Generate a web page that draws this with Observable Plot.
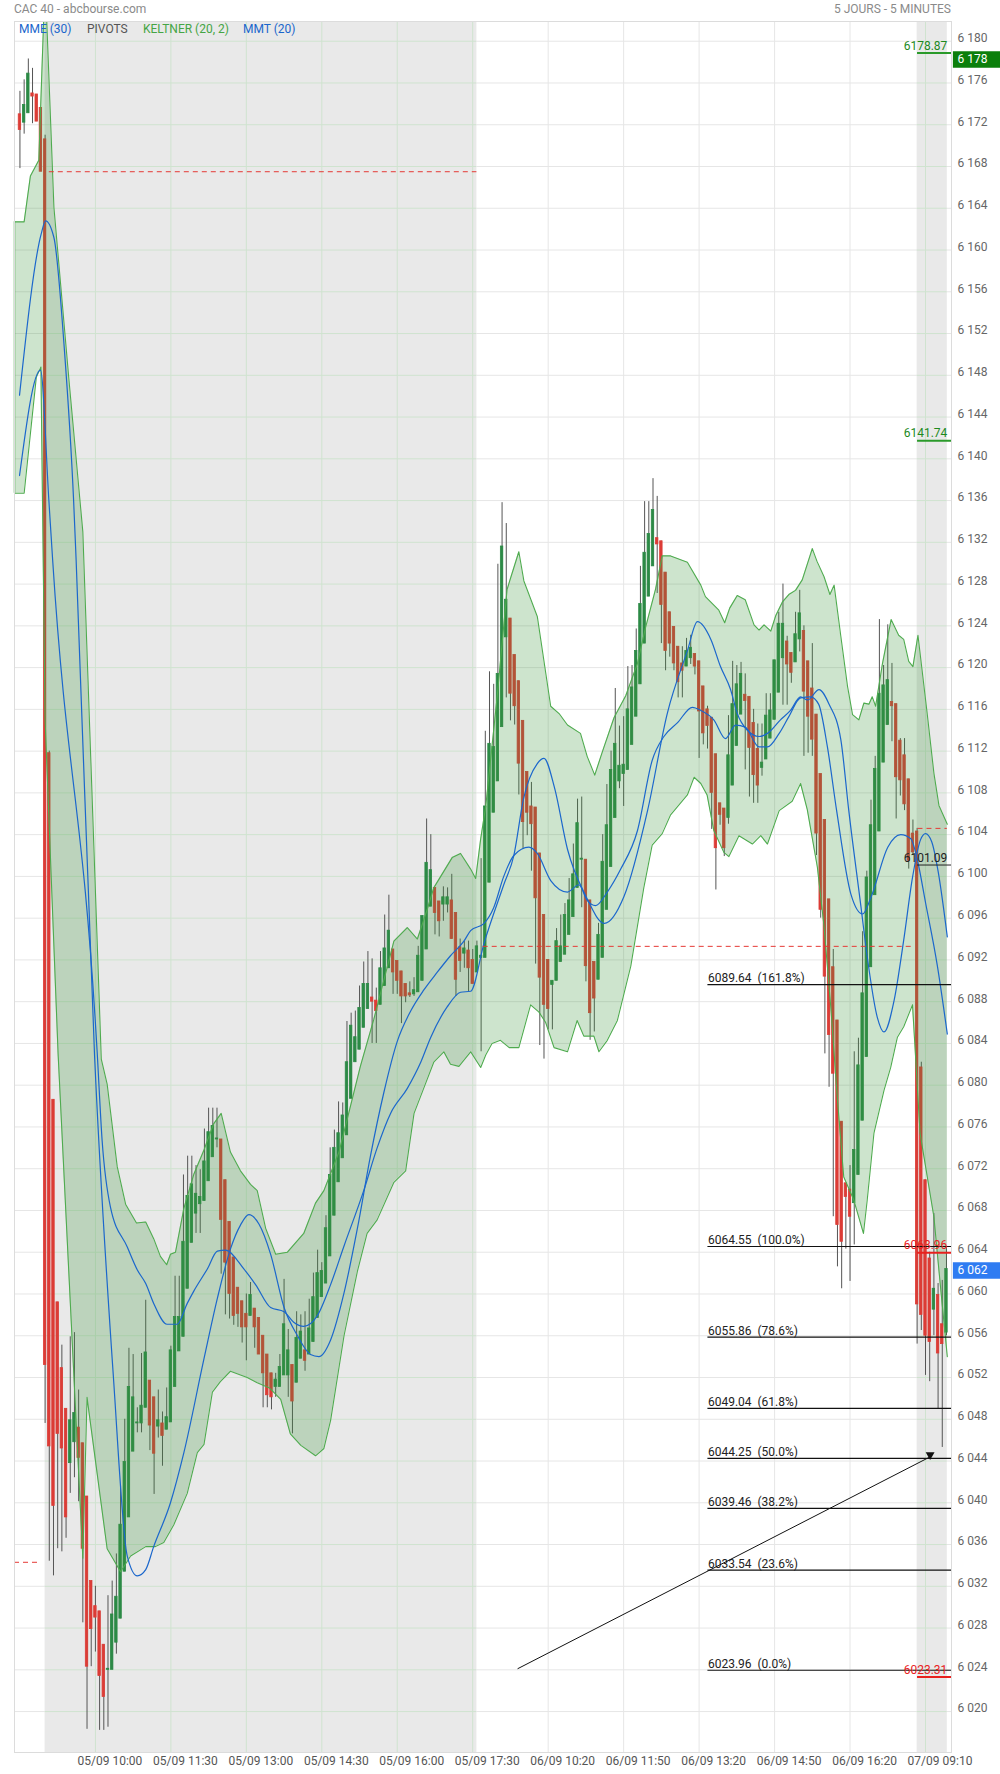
<!DOCTYPE html>
<html><head><meta charset="utf-8">
<script src="https://cdn.jsdelivr.net/npm/d3@7"></script>
<script src="https://cdn.jsdelivr.net/npm/@observablehq/plot@0.6"></script>
<style>
body{margin:0;background:#fff;font-family:Roboto,sans-serif;}
#wrap{position:relative;width:1000px;height:1774px;overflow:hidden;}
#chart{position:absolute;left:0;top:0;}
.hdr{position:absolute;top:1px;font-size:12px;color:#8a8a8a;line-height:16px;white-space:nowrap;}
.leg{position:absolute;top:21px;font-size:12px;line-height:16px;white-space:nowrap;}
</style></head><body>
<div id="wrap">
<div id="chart"></div>
<div class="hdr" style="left:14px">CAC 40 - abcbourse.com</div>
<div class="hdr" style="right:49px">5 JOURS - 5 MINUTES</div>
<div class="leg" style="left:19px;color:#1a66cc">MME (30)</div>
<div class="leg" style="left:87px;color:#555">PIVOTS</div>
<div class="leg" style="left:143px;color:#45a545">KELTNER (20, 2)</div>
<div class="leg" style="left:243px;color:#1a66cc">MMT (20)</div>
</div>
<script>
// ---------- data ----------
const kStart = -6; // candle slot of first candle (04/09 end)
const open = [6173.0,6172.2,6173.1,6175.0,6174.9,6173.6,
6170.6,6111.8,6078.6,6059.2,6052.9,6049.0,6043.8,6045.8,6047.2,6045.7,6040.6,6032.5,6030.1,6029.6,6026.4,6024.0,6024.0,6026.6,6028.9,6033.4,
6038.6,6044.9,6047.6,6047.6,6049.1,6051.7,6050.1,6047.3,6047.6,6047.0,6047.7,6051.1,6054.5,6055.9,6060.5,6064.9,6067.7,6068.6,6068.9,6070.8,
6073.1,6074.8,6074.8,6070.9,6066.9,6063.5,6060.6,6059.3,6058.1,6057.9,6058.6,6057.7,6056.0,6054.2,6052.4,6051.1,6051.1,6052.2,6052.2,6053.2,
6051.5,6053.8,6054.6,6054.2,6055.4,6057.7,6059.7,6061.0,6063.6,6067.5,6070.7,6073.0,6075.2,6078.7,6082.2,6083.4,6085.5,6087.3,6088.4,6088.1,
6087.7,6089.5,6091.2,6093.0,6091.9,6090.9,6089.7,6088.8,6088.7,6088.9,6090.0,6093.0,6097.1,6098.9,6097.6,6097.3,6097.3,6097.7,6096.5,6093.2,
6092.6,6092.9,6092.0,6090.8,
6092.2,6092.2,6099.4,6106.1,6109.1,6114.3,6122.9,6124.7,6121.2,6118.7,6114.9,6110.0,6106.7,6106.6,6102.2,6096.3,6092.0,6089.6,6090.0,6091.8,
6092.5,6094.4,6096.1,6098.9,6101.6,6101.6,6097.7,6091.8,6090.1,6092.2,6096.8,6100.9,6105.6,6109.1,6109.8,6110.2,6112.6,6115.3,6118.4,6122.3,
6126.8,6129.7,6132.4,6132.1,6129.1,6125.3,6123.9,6122.0,6120.4,6120.1,6120.9,6121.3,6120.6,6118.2,6116.0,6115.2,6111.7,6107.0,6106.5,6105.6,
6108.7,6112.5,6115.5,6117.4,6117.2,6114.7,6112.2,6110.4,6111.2,6113.2,6115.0,6117.6,6120.9,6122.5,6121.4,6120.5,6122.7,6123.5,6120.6,6118.0,
6115.5,6109.8,6105.4,6097.8,6091.3,6086.2,6076.5,6070.6,6070.0,6068.7,6071.4,6076.6,6082.7,6091.3,6098.2,6104.3,6110.9,6114.5,6116.7,6116.5,
6113.0,6111.6,6109.3,6104.1,
6104.3,6081.7,6070.9,6063.4,6058.5,6059.9,6057.1,6056.3];
const high = [6175.2,6176.3,6178.3,6177.4,6174.9,6173.6,
6171.0,6112.0,6078.6,6059.2,6055.1,6049.0,6055.9,6056.3,6050.8,6045.7,6040.6,6032.5,6032.0,6029.6,6026.4,6031.1,6032.5,6035.1,6041.6,6048.0,
6054.8,6054.2,6049.1,6054.3,6059.4,6051.7,6050.1,6050.8,6048.7,6051.0,6055.0,6061.7,6061.7,6071.4,6073.2,6073.2,6072.3,6071.9,6075.8,6077.8,
6077.8,6077.8,6074.8,6070.9,6066.9,6063.5,6060.6,6059.3,6060.0,6061.1,6058.6,6057.7,6056.0,6054.2,6052.4,6052.4,6054.2,6061.4,6056.6,6053.2,
6058.3,6058.0,6058.3,6059.5,6062.0,6064.2,6063.0,6067.5,6074.0,6075.7,6078.4,6078.3,6086.1,6086.9,6087.1,6089.5,6091.8,6092.8,6092.1,6089.3,
6092.8,6096.3,6098.2,6093.0,6091.9,6090.9,6089.7,6089.9,6090.3,6093.3,6096.2,6105.5,6104.0,6098.9,6097.6,6099.0,6098.9,6100.2,6096.5,6094.0,
6093.8,6093.8,6093.0,6093.8,
6101.7,6113.9,6119.6,6118.4,6129.9,6135.8,6133.8,6124.7,6121.2,6118.7,6114.9,6110.0,6109.0,6106.6,6102.2,6096.3,6092.0,6090.0,6095.0,6096.3,
6097.4,6099.8,6103.1,6107.4,6107.6,6101.6,6097.7,6091.8,6095.5,6104.0,6108.8,6112.0,6118.0,6114.4,6115.3,6120.1,6120.2,6123.7,6129.7,6135.9,
6135.9,6138.1,6136.4,6132.1,6129.1,6125.3,6123.9,6122.0,6122.0,6122.8,6123.1,6121.3,6120.6,6118.2,6116.3,6115.2,6111.7,6107.0,6106.5,6115.4,
6120.6,6120.2,6120.5,6119.4,6117.2,6116.0,6114.6,6114.6,6117.5,6117.5,6120.7,6125.3,6128.0,6123.0,6121.4,6125.3,6127.4,6124.0,6120.6,6122.3,
6115.5,6109.8,6105.4,6097.8,6093.0,6086.2,6076.5,6070.6,6072.3,6083.2,6084.5,6094.7,6100.5,6107.3,6111.5,6124.6,6120.2,6124.1,6120.4,6116.5,
6113.2,6113.2,6109.3,6105.4,
6104.6,6082.2,6070.9,6064.0,6067.7,6061.0,6061.3,6064.5];
const low = [6167.8,6171.1,6173.1,6172.1,6172.3,6167.5,
6047.6,6034.4,6033.0,6035.6,6035.3,6036.6,6040.9,6042.4,6040.1,6028.5,6018.3,6024.3,6025.7,6018.2,6018.2,6018.5,6024.0,6025.5,6028.9,6033.4,
6038.6,6044.9,6046.7,6046.7,6049.1,6045.0,6040.8,6046.2,6043.5,6047.0,6047.7,6051.1,6054.5,6055.9,6060.5,6064.9,6065.8,6065.8,6068.9,6070.8,
6073.1,6074.0,6061.9,6058.0,6057.6,6057.0,6056.8,6055.3,6053.6,6057.9,6054.8,6054.2,6049.1,6049.1,6048.9,6050.1,6051.1,6052.2,6050.1,6046.6,
6051.5,6053.8,6052.6,6054.2,6055.4,6057.7,6059.7,6061.0,6063.6,6067.5,6070.7,6073.0,6075.2,6078.7,6082.2,6083.4,6085.5,6087.3,6084.0,6084.0,
6087.7,6089.5,6091.2,6088.7,6088.7,6085.9,6087.9,6088.4,6088.5,6088.9,6090.0,6093.0,6097.1,6094.4,6094.2,6095.7,6096.5,6094.0,6088.5,6090.8,
6091.2,6088.9,6089.7,6090.8,
6083.2,6092.2,6099.4,6106.1,6109.1,6114.3,6117.1,6114.9,6114.5,6107.8,6102.6,6103.9,6100.5,6091.6,6083.8,6082.5,6085.3,6085.3,6090.0,6091.8,
6092.5,6094.4,6096.1,6098.9,6097.0,6089.9,6084.3,6085.1,6090.1,6092.2,6096.8,6100.9,6105.6,6108.4,6106.7,6110.2,6112.6,6115.3,6118.4,6122.3,
6126.8,6129.7,6127.1,6122.3,6119.7,6121.0,6119.7,6117.1,6117.1,6120.1,6120.3,6119.3,6111.3,6112.6,6112.2,6104.5,6098.7,6104.9,6101.9,6105.0,
6108.7,6112.5,6115.5,6110.2,6107.6,6107.0,6107.0,6109.6,6111.2,6113.2,6115.0,6117.6,6116.4,6116.4,6118.5,6120.5,6121.5,6111.5,6111.8,6111.5,
6102.0,6096.0,6083.0,6079.8,6067.4,6062.6,6060.5,6064.3,6061.2,6064.7,6071.4,6076.6,6082.7,6091.3,6098.2,6104.3,6110.9,6114.5,6112.9,6105.5,
6107.7,6106.3,6100.7,6102.0,
6055.2,6056.5,6052.2,6051.6,6056.0,6049.0,6045.3,6056.0];
const close = [6171.5,6173.9,6176.9,6174.7,6172.3,6167.5,
6053.2,6045.4,6039.7,6046.6,6045.2,6038.6,6047.9,6048.6,6044.3,6035.6,6024.3,6027.9,6029.0,6023.4,6021.4,6024.1,6029.3,6031.0,6037.9,6043.9,
6051.1,6050.1,6047.7,6049.3,6054.4,6047.4,6044.7,6047.9,6046.4,6048.2,6054.6,6057.8,6057.8,6065.0,6069.4,6070.5,6069.6,6069.3,6072.7,6075.5,
6076.1,6074.9,6067.1,6063.0,6060.0,6057.9,6058.1,6056.8,6056.8,6059.9,6056.8,6054.2,6052.4,6050.3,6050.1,6051.8,6053.0,6057.1,6054.6,6049.7,
6055.8,6056.4,6053.6,6056.7,6059.7,6062.0,6062.2,6066.3,6071.4,6074.0,6075.4,6077.1,6082.2,6085.7,6084.6,6087.4,6089.7,6089.7,6088.0,6087.1,
6091.2,6093.1,6094.8,6090.8,6090.0,6088.5,6088.5,6088.6,6089.1,6092.4,6096.2,6101.3,6100.6,6096.5,6095.7,6098.0,6098.0,6094.0,6090.1,6091.9,
6093.1,6091.2,6089.7,6093.3,
6092.4,6106.7,6112.7,6112.4,6119.4,6131.6,6126.5,6117.5,6116.3,6110.8,6105.2,6106.1,6105.0,6097.9,6090.3,6087.7,6087.3,6090.0,6093.8,6093.3,
6096.3,6097.7,6100.2,6105.1,6101.7,6091.4,6086.9,6088.3,6094.4,6101.4,6104.9,6110.2,6112.7,6110.6,6110.7,6116.0,6118.1,6121.6,6126.1,6131.0,
6132.8,6135.1,6131.8,6126.0,6121.6,6122.3,6120.4,6118.6,6119.7,6121.6,6121.9,6120.1,6115.8,6113.7,6114.4,6108.0,6102.7,6105.9,6102.7,6111.6,
6116.5,6118.4,6119.4,6116.8,6112.3,6109.7,6108.7,6110.9,6115.4,6115.9,6120.7,6124.2,6124.2,6120.3,6119.5,6123.2,6125.2,6117.7,6115.3,6113.1,
6104.1,6096.8,6090.4,6084.8,6081.1,6066.6,6065.0,6069.3,6067.4,6073.8,6081.9,6088.8,6099.9,6104.9,6110.3,6117.5,6118.3,6118.8,6116.3,6109.5,
6109.2,6106.9,6101.5,6102.3,
6059.0,6058.0,6056.0,6055.4,6060.5,6054.3,6055.2,6062.4];

// Keltner (20, 2) bands: [slot, value]
const kcUpper = [[-7.3,6162.7],[-5,6162.7],[-3.5,6167.1],[-1.5,6168.6],[0,6186],[2.1,6164.1],[5.7,6147.5],[9,6133],[13.4,6082.5],[14.8,6080.1],
[17.2,6072.2],[19.2,6068.6],[21.8,6066.8],[24,6066.9],[25.9,6065.3],[27.5,6063.6],[29,6062.8],[29.9,6063.8],[31.1,6064.0],[33.1,6068.2],
[35.5,6071.5],[37.9,6073.8],[40.2,6076.3],[42,6077.3],[44.2,6073.6],[46.6,6071.8],[49,6070.5],[50.6,6069.9],[52.6,6066.3],[55,6063.8],
[57.8,6064.0],[61.7,6065.8],[64.5,6068.7],[66.5,6069.9],[70.1,6073.6],[72.9,6078.1],[75.2,6081.8],[78.4,6086.3],[83.2,6093.8],[86.4,6095.1],
[88.8,6094.0],[91.2,6096.9],[92.7,6098.9],[97.1,6101.8],[99.1,6102.2],[101.5,6100.7],[102.7,6099.8],[103.9,6103.6],[105.1,6106.7],[107.9,6117.5],
[110.2,6127.5],[113,6131.1],[114.2,6128.3],[117.4,6124.9],[120.6,6116.3],[122.6,6115.6],[124.6,6114.5],[127.7,6113.7],[129.3,6111.5],[131.1,6109.7],
[132.9,6111.9],[135.7,6115.2],[138.5,6117.3],[141.3,6120.4],[143.2,6123.8],[145.6,6127.5],[147.2,6130.7],[149.2,6130.7],[153.2,6130.1],[156.4,6127.9],
[157.5,6126.8],[160.7,6125.5],[162.1,6124.3],[163.3,6125.7],[165.1,6126.9],[167,6126.5],[169.1,6124.1],[170.3,6123.6],[171.5,6124.1],[173.1,6123.5],
[174.3,6125.0],[175.9,6126.3],[177.4,6127.0],[179,6127.4],[180.6,6128.4],[183,6131.4],[184.1,6130.2],[185.8,6128.7],[187.2,6127.0],[188.2,6127.9],
[189.8,6123.0],[191.4,6118.2],[192.6,6115.5],[194.1,6115.0],[195.3,6116.6],[196.5,6116.5],[197.3,6117.2],[198.1,6116.3],[199.7,6120.3],[201.8,6124.6],
[203.6,6123.1],[204.8,6122.7],[206,6120.6],[207,6120.1],[208.2,6123.1],[210.4,6115.6],[212,6109.9],[213.2,6106.8],[215.2,6105.0]];
const kcLower = [[-7.3,6136.7],[-5,6136.7],[-2.1,6147.8],[-1,6148.8],[0,6115],[3.1,6083],[9,6034.7],[10,6050.1],[14.8,6035.6],[18,6033.4],
[20.4,6034.9],[24,6035.8],[26.3,6035.8],[28.3,6036.2],[30.7,6037.9],[33.9,6040.9],[36.3,6044.8],[37.9,6045.6],[39.9,6050.6],[41.8,6051.6],
[44.2,6052.6],[48.2,6052.0],[50.6,6051.5],[53.5,6051.0],[56.2,6049.9],[58.5,6046.6],[61,6045.5],[64.5,6044.5],[66.5,6045.2],[68.1,6047.9],
[71.3,6056.0],[74.5,6062.2],[76.8,6065.8],[79.2,6067.1],[83.2,6070.7],[86,6071.8],[88,6077.3],[90.3,6079.7],[92.7,6082.2],[95.1,6083.2],
[96.7,6082.0],[98.7,6081.8],[101.5,6083.2],[103.9,6081.7],[105.1,6082.9],[106.6,6084.0],[108.6,6084.3],[110.7,6083.6],[113,6083.6],[115.8,6087.7],
[117.8,6087.0],[119.4,6086.0],[121.4,6083.6],[124.6,6083.2],[126.9,6086.2],[128.5,6084.7],[130.9,6084.7],[132.1,6083.2],[134.1,6084.3],[136.5,6086.2],
[139.7,6091.4],[142.8,6098.9],[144.8,6103.0],[147.2,6104.1],[149.2,6105.9],[153.2,6107.8],[154.8,6109.5],[156.4,6108.9],[157.9,6107.8],[159.5,6104.4],
[161.9,6102.3],[163.1,6101.9],[165.5,6103.9],[168.7,6103.1],[170.7,6103.9],[172.3,6103.1],[175.1,6106.3],[178.2,6107.2],[180.2,6108.9],[181.8,6106.4],
[184.2,6100.9],[185.8,6095.2],[187.4,6087.5],[189,6078.6],[190.5,6071.2],[192.9,6069.0],[195.2,6065.8],[196.1,6069.0],[197.7,6075.4],[200.1,6079.5],
[201.7,6081.7],[203.3,6084.6],[204.8,6085.6],[206.9,6087.7],[208.7,6075.4],[212,6067.4],[213.5,6061],[215.2,6054]];

// moving averages: [slot, value]
const mme30 = [[-6.1,6146.1],[-0.9,6161.6],[0.1,6162.8],[2.1,6161.2],[4.5,6151],[6.8,6136.0],[7.4,6130.3],[11.8,6082.8],[16.3,6052],[19.6,6034.9],
[22,6033.0],[24,6033.6],[25.9,6035.8],[29.9,6040.0],[33.1,6044.8],[37.9,6053.8],[41.1,6059.6],[44.2,6064.3],[46.6,6066.6],[48.6,6067.6],
[51,6066.7],[53.8,6063.8],[57,6058.7],[60.2,6056.0],[63.3,6054.2],[65.3,6054.0],[68.1,6055.6],[71.3,6060.1],[74.5,6066.3],[77.6,6073.2],
[80.8,6079.3],[84,6084.2],[87.2,6087.1],[90.3,6089.1],[93.5,6090.8],[96.7,6092.4],[99.9,6093.8],[101.5,6094.8],[104.7,6095.5],[107,6097.0],
[109.4,6100.0],[111.8,6102.0],[115.4,6102.8],[117.4,6102.2],[120.6,6099.6],[124.6,6098.5],[127.3,6099.2],[129.3,6097.7],[131.3,6097.2],[134.1,6098.5],
[137.3,6100.7],[141.3,6104.4],[144.8,6111.1],[147.6,6113.4],[150.8,6114.7],[154.4,6116.2],[156.4,6115.9],[159.5,6115.0],[162.3,6113.2],[164.7,6114.5],
[167,6114.3],[170.3,6112.4],[172.3,6112.4],[175.1,6113.7],[177.4,6115.3],[180.2,6117.1],[182.6,6117.2],[184.5,6116.5],[186.6,6112.4],[188.8,6106.3],
[192.2,6098.3],[195,6096.4],[197,6098.0],[201,6102.8],[204.1,6104.0],[206.5,6103.6],[208.1,6101.5],[210,6097.5],[212.8,6091.5],[215.2,6084.9]];
const mmt20 = [[-6.1,6138.4],[-1.1,6148.5],[0.9,6136],[1.8,6130.3],[12.4,6083.3],[13.6,6074.7],[15.6,6068.3],[19.6,6064.5],[22,6062.3],[24,6061.0],
[25.9,6059.1],[29.1,6057.1],[31.5,6057.1],[33.9,6059.1],[35.5,6060.3],[38.7,6062.4],[41.1,6064.1],[43,6064.2],[47.4,6062.4],[50.2,6060.9],
[53.8,6058.7],[57,6058.3],[59.3,6057.3],[61.7,6056.9],[64.9,6057.9],[68.1,6060.9],[71.3,6064.6],[76,6069.9],[79.2,6074.0],[82.4,6077.3],
[86.4,6079.7],[89.6,6082.2],[92,6084.6],[95.9,6087.5],[99.1,6088.9],[101.5,6089.0],[104.7,6093.6],[109.4,6099.2],[111.8,6102],[114.1,6107.4],
[117.4,6110.8],[119,6111.3],[121.5,6108.5],[124.6,6102.6],[129,6098.1],[133.4,6095.5],[138.1,6098.1],[143.7,6106.3],[148.4,6115.6],[153.2,6121.6],
[155.6,6124.4],[158.8,6122.7],[161.1,6120.1],[163.5,6117.9],[165.1,6115.6],[167.5,6114.0],[170.3,6113.4],[172.3,6113.7],[175.4,6115.0],[177.8,6115.9],
[180.2,6117.2],[181.9,6116.9],[184.6,6117.9],[187,6116.5],[189.8,6113.1],[191.7,6106.3],[194.6,6097.1],[196.1,6092.3],[198.5,6086.5],[200.1,6085.1],
[202.5,6088.1],[204.8,6093.9],[206.9,6099.9],[208.8,6103.5],[210,6104.1],[211.5,6103.3],[213,6100.5],[215.2,6094.2]];

// previous-close dashed lines per session
const prevStart = [-7.3, 1, 104.5, 208.2];
const prevEnd = [-0.9, 103, 207.2, 215.2];
const prevValue = [6034.3, 6167.5, 6093.3, 6104.6];

// pivots (current session)
const pivotValues = [6178.87, 6141.74, 6101.09, 6063.96, 6023.31];
const pivotColors = ["#2a9a2a", "#2a9a2a", "#222", "#e8211d", "#e8211d"];
const pivotText = ["#1d8a1d", "#1d8a1d", "#222", "#e8211d", "#e8211d"];
const pivotBold = [true, true, false, true, true];
const pivotStart = 208.1, pivotLabelAt = 215.2;

// Fibonacci retracement
const fibValues = [6089.64, 6064.55, 6055.86, 6049.04, 6044.25, 6039.46, 6033.54, 6023.96];
const fibPct = ["161.8%", "100.0%", "78.6%", "61.8%", "50.0%", "38.2%", "23.6%", "0.0%"];
const fibStart = 158.1;
const trendK = [112.7, 211.1];
const trendV = [6024.1, 6044.4];

// sessions shading, ticks
const shadeStart = [0, 208];
const shadeEnd = [103, 215.2];
const xTickK = [12, 30, 48, 66, 84, 102, 120, 138, 156, 174, 192, 210];
const xTickLabels = ["05/09 10:00","05/09 11:30","05/09 13:00","05/09 14:30","05/09 16:00","05/09 17:30",
"06/09 10:20","06/09 11:50","06/09 13:20","06/09 14:50","06/09 16:20","07/09 09:10"];
const yTicks = [6020,6024,6028,6032,6036,6040,6044,6048,6052,6056,6060,6064,6068,6072,6076,6080,6084,6088,6092,6096,6100,
6104,6108,6112,6116,6120,6124,6128,6132,6136,6140,6144,6148,6152,6156,6160,6164,6168,6172,6176,6180];
const badgeValues = [6178, 6062];
const badgeColors = ["#0b7f0b", "#2f7cf2"];

// ---------- build ----------
const X_DOMAIN = [-7.3, 216.2];
const Y_DOMAIN = [6016.08, 6181.89];
const GREEN = "#2c8a46", RED = "#dc3c36";
const candles = open.map((o, i) => ({k: kStart + i, o, h: high[i], l: low[i], c: close[i]}));
const up = candles.filter(d => d.c >= d.o), down = candles.filter(d => d.c < d.o);

const shaded = k => shadeStart.some((s, i) => k >= s && k <= shadeEnd[i]);
const segs = [];
let edges = [X_DOMAIN[0]];
shadeStart.forEach((s, i) => { edges.push(s, shadeEnd[i]); });
edges.push(X_DOMAIN[1]);
for (let i = 0; i < edges.length - 1; i++) segs.push({a: edges[i], b: edges[i + 1], sh: i % 2 === 1});
const hGrid = [];
yTicks.forEach(v => segs.forEach(s => hGrid.push({v, a: s.a, b: s.b, col: s.sh ? "#cfe3cf" : "#e6e6e6"})));

const nBand = Math.max(kcUpper.length, kcLower.length);
const band = d3.range(nBand).map(i => {
  const u = kcUpper[Math.min(i, kcUpper.length - 1)], l = kcLower[Math.min(i, kcLower.length - 1)];
  return {ku: u[0], vu: u[1], kl: l[0], vl: l[1]};
});
const pt = a => a.map(([k, v]) => ({k, v}));
const prev = prevValue.map((v, i) => ({v, a: prevStart[i], b: prevEnd[i]}));
const pivots = pivotValues.map((v, i) => ({v, col: pivotColors[i], tcol: pivotText[i], bold: pivotBold[i]}));
const fibs = fibValues.map((v, i) => ({v, label: v.toFixed(2) + "\u00a0\u00a0(" + fibPct[i] + ")"}));
const badges = badgeValues.map((v, i) => ({v, col: badgeColors[i]}));
const fmt = v => Math.floor(v / 1000) + " " + String(v % 1000).padStart(3, "0");

const chart = Plot.plot({
  width: 1000, height: 1774,
  marginTop: 21, marginRight: 49, marginBottom: 22, marginLeft: 14,
  x: {domain: X_DOMAIN, axis: null},
  y: {domain: Y_DOMAIN, axis: null},
  color: {type: "identity"},
  style: {fontFamily: "Roboto, sans-serif", background: "#fff", overflow: "visible"},
  marks: [
    Plot.rect(shadeStart.map((s, i) => ({a: s, b: shadeEnd[i]})), {x1: "a", x2: "b", y1: () => Y_DOMAIN[0], y2: () => Y_DOMAIN[1], fill: "#e9e9e9"}),
    Plot.ruleY(hGrid, {y: "v", x1: "a", x2: "b", stroke: "col", strokeWidth: 1}),
    Plot.ruleX(xTickK, {x: d => d, stroke: d => shaded(d) ? "#cfe3cf" : "#e6e6e6", strokeWidth: 1}),
    Plot.ruleX(candles, {x: "k", y1: "l", y2: "h", stroke: "#555", strokeWidth: 1}),
    Plot.rect(up, {x1: d => d.k - 0.29, x2: d => d.k + 0.29, y1: "o", y2: "c", fill: GREEN, stroke: GREEN, strokeWidth: 0.8}),
    Plot.rect(down, {x1: d => d.k - 0.29, x2: d => d.k + 0.29, y1: "o", y2: "c", fill: RED, stroke: RED, strokeWidth: 0.8}),
    Plot.area(band, {x1: "kl", y1: "vl", x2: "ku", y2: "vu", fill: "rgb(60,150,60)", fillOpacity: 0.26, clip: true}),
    Plot.line(pt(kcUpper), {x: "k", y: "v", stroke: "#4fab4f", strokeWidth: 1.1, clip: true}),
    Plot.line(pt(kcLower), {x: "k", y: "v", stroke: "#4fab4f", strokeWidth: 1.1, clip: true}),
    Plot.ruleX([0], {x: () => kcUpper[0][0], y1: () => kcLower[0][1], y2: () => kcUpper[0][1], stroke: "#4fab4f", strokeWidth: 1.5}),
    Plot.line(pt(mme30), {x: "k", y: "v", stroke: "#1b67cc", strokeWidth: 1.2, curve: "monotone-x", clip: true}),
    Plot.line(pt(mmt20), {x: "k", y: "v", stroke: "#1b67cc", strokeWidth: 1.2, curve: "monotone-x", clip: true}),
    Plot.ruleY(prev, {y: "v", x1: "a", x2: "b", stroke: "#e53935", strokeWidth: 1, strokeDasharray: "5,4"}),
    Plot.ruleY(fibs, {y: "v", x1: () => fibStart, x2: () => X_DOMAIN[1], stroke: "#111", strokeWidth: 1.2}),
    Plot.text(fibs, {x: () => fibStart, y: "v", text: "label", textAnchor: "start", dy: -6, fontSize: 12, fill: "#222"}),
    Plot.link([0], {x1: () => trendK[0], y1: () => trendV[0], x2: () => trendK[1], y2: () => trendV[1], stroke: "#111", strokeWidth: 1}),
    Plot.dot([0], {x: () => trendK[1], y: () => trendV[1], symbol: "triangle", rotate: 180, r: 3.3, fill: "#111", dy: -2}),
    Plot.ruleY(pivots.filter(d => d.bold), {y: "v", x1: () => pivotStart, x2: () => X_DOMAIN[1], stroke: "col", strokeWidth: 2}),
    Plot.ruleY(pivots.filter(d => !d.bold), {y: "v", x1: () => pivotStart, x2: () => X_DOMAIN[1], stroke: "col", strokeWidth: 1}),
    Plot.text(pivots, {x: () => pivotLabelAt, y: "v", text: d => d.v.toFixed(2), textAnchor: "end", dy: -7, fontSize: 12, fill: "tcol"}),
    Plot.frame({stroke: "#dcdcdc"}),
    Plot.text(yTicks, {y: d => d, text: fmt, frameAnchor: "right", textAnchor: "start", dx: 6, dy: -3, fontSize: 12, fill: "#666"}),
    Plot.ruleY(badges, {y: "v", x1: () => X_DOMAIN[1] + 0.45, x2: () => X_DOMAIN[1] + 12, stroke: "col", strokeWidth: 16.5, dy: -2.5}),
    Plot.text(badges, {y: "v", text: d => fmt(d.v), frameAnchor: "right", textAnchor: "start", dx: 6, dy: -3, fontSize: 12, fill: "#fff"}),
    Plot.text(xTickK, {x: d => d, text: (d, i) => xTickLabels[i], frameAnchor: "bottom", dy: 12, dx: 14.5, fontSize: 12, fill: "#555"})
  ]
});
document.getElementById("chart").append(chart);
</script>
</body></html>
